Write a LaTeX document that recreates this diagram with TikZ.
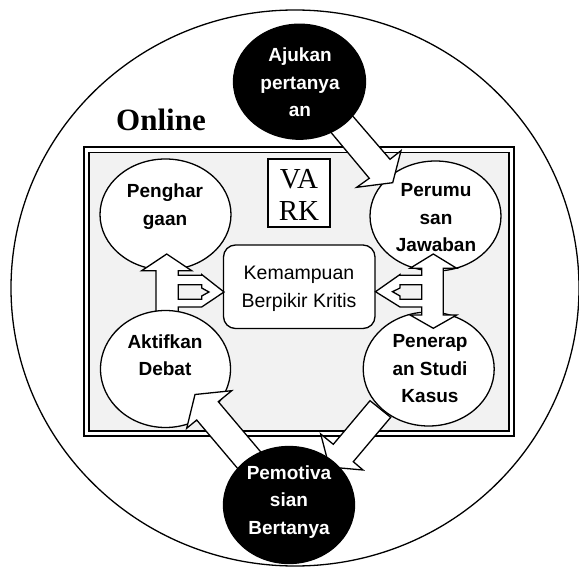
\documentclass[tikz,border=0pt]{standalone}
\usepackage{fontspec}
\newfontfamily\arialfont{Liberation Sans}
\newfontfamily\timesfont{Liberation Serif}
\usetikzlibrary{shapes.geometric}
\definecolor{framegray}{RGB}{242,242,242}
\begin{document}
\begin{tikzpicture}[x=1pt,y=-1pt,line join=miter,
  lw/.style={line width=1.3pt},
  bub/.style={ellipse,draw,lw,fill=white,inner sep=0pt},
  darkbub/.style={ellipse,draw,lw,fill=black,inner sep=0pt},
  btxt/.style={font=\arialfont\bfseries\fontsize{19}{27.6}\selectfont,align=center,inner sep=0pt},
  blockarrow/.style={draw,lw,fill=white},
  hole/.style={draw,lw,fill=framegray}]
\useasboundingbox (0,0) rectangle (579,567);
% outer circle
\draw[lw,fill=white] (295,288) ellipse (284 and 278);
\node[font=\timesfont\bfseries\fontsize{31}{31}\selectfont,anchor=base,inner sep=0pt] (online) at (161,131) {Online};
% double frame
\draw[line width=2pt] (84,147.5) rectangle (514,436);
\draw[line width=1.2pt,fill=framegray] (89,152.5) rectangle (509,431);
% VARK box
\node[draw,lw,fill=white,inner sep=0pt,minimum width=62pt,minimum height=68pt] (vark) at (299,193) {};
% central box
\node[draw,lw,fill=white,rounded corners=12pt,inner sep=0pt,minimum width=151.5pt,minimum height=83.5pt] (kbox) at (299.25,286.75) {};
% white ellipses
\node[bub,minimum width=131pt,minimum height=111pt] (peng) at (165.5,214.5) {};
\node[bub,minimum width=131pt,minimum height=110pt] (perum) at (435.5,216) {};
\node[bub,minimum width=131pt,minimum height=114pt] (pener) at (428.7,369) {};
% left vertical arrow with branches to the central box
\draw[blockarrow] (156,335) -- (156,270.7) -- (141.7,270.7) -- (166.7,254) -- (191.7,270.7) -- (178.3,270.7)
  -- (178.3,275.3) -- (201.7,275.3) -- (201.7,274.5) -- (224,292) -- (201.7,307) -- (178.3,307) -- (178.3,335) -- cycle;
\draw[hole] (178.3,284.7) -- (201.7,284.7) -- (201.7,288) -- (209,292) -- (201.7,296) -- (201.7,299.3) -- (178.3,299.3) -- cycle;
\node[bub,minimum width=130pt,minimum height=117pt] (aktif) at (165.5,369) {};
% right vertical double arrow with branches
\draw[blockarrow] (421.7,268.3) -- (410,268.3) -- (433.3,254) -- (456.7,268.3) -- (443.3,268.3) -- (443.3,315)
  -- (456.7,315) -- (433.3,328.3) -- (410,315) -- (421.7,315) -- (421.7,307) -- (400,307) -- (375.5,291.7)
  -- (400,274.5) -- (400,275.3) -- (421.7,275.3) -- cycle;
\draw[hole] (421.7,284.7) -- (400,284.7) -- (400,288) -- (392.5,291.7) -- (400,296) -- (400,299.3) -- (421.7,299.3) -- cycle;
% diagonal arrows
\draw[blockarrow] (318.7,117.7) -- (369.3,178.3) -- (356.7,187.3) -- (392.7,182.7) -- (401,150.7) -- (390,159.3) -- (340,101.3) -- cycle;
\draw[blockarrow] (241.9,473.5) -- (196.7,420) -- (186.7,428.3) -- (195,394.5) -- (231.7,390.7) -- (218.3,401.7) -- (263.5,455.2) -- cycle;
\draw[blockarrow] (370,400.7) -- (333.3,444.3) -- (320.7,434) -- (329.3,467) -- (363,470) -- (353.3,461.7) -- (390.7,417.3) -- cycle;
% black ellipses
\node[darkbub,minimum width=132pt,minimum height=115pt] (ajukan) at (299.5,81.7) {};
\node[darkbub,minimum width=131pt,minimum height=117pt] (pemot) at (289,505) {};
% texts
\node[font=\timesfont\fontsize{29}{31.6}\selectfont,align=center,inner sep=0pt] (varkT) at (299,195.2) {VA\\RK};
\node[font=\arialfont\fontsize{19.5}{27.5}\selectfont,align=center,inner sep=0pt] (kT) at (299,288.8) {Kemampuan\\Berpikir Kritis};
\node[btxt] (pengT) at (165,206.7) {Penghar\\gaan};
\node[btxt] (perumT) at (436,217.7) {Perumu\\san\\Jawaban};
\node[btxt] (aktifT) at (165,355.2) {Aktifkan\\Debat};
\node[btxt] (penerT) at (430,368.8) {Penerap\\an Studi\\Kasus};
\node[btxt,text=white] (ajukanT) at (300,82.4) {Ajukan\\pertanya\\an};
\node[btxt,text=white] (pemotT) at (289,501.8) {Pemotiva\\sian\\Bertanya};
\end{tikzpicture}
\end{document}
